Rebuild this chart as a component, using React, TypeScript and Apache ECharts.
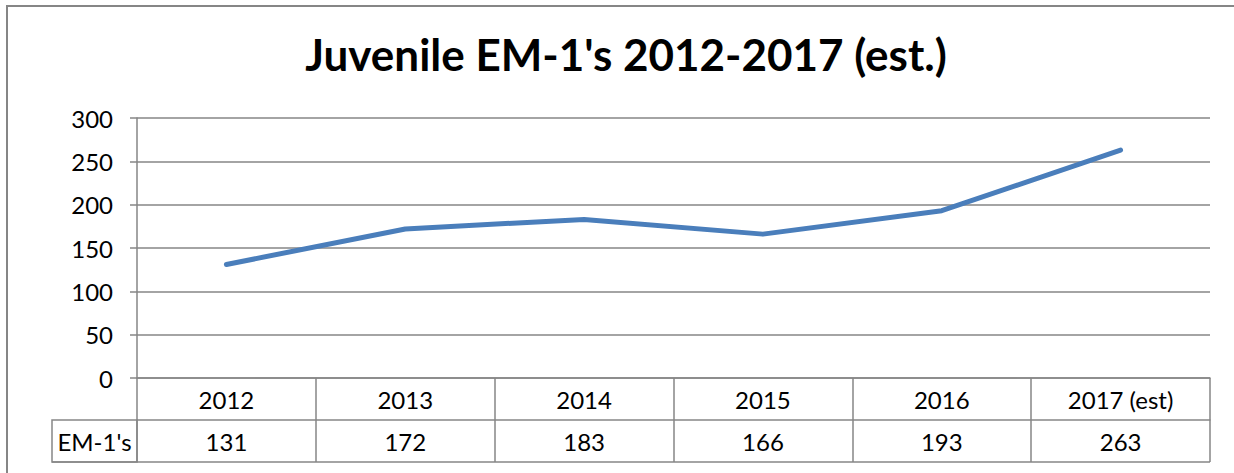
import React, { useEffect, useRef } from "react";
import * as echarts from "echarts";

const titleText = "Juvenile EM-1's 2012-2017 (est.)";
const categories = ["2012", "2013", "2014", "2015", "2016", "2017 (est)"];
const seriesName = "EM-1's";
const values = [131, 172, 183, 166, 193, 263];

const W = 1234;
const H = 473;
const GRID_LEFT = 137;
const GRID_RIGHT_X = 1210;
const GRID_TOP = 118;
const GRID_BOTTOM_Y = 378;
const ROW_H = 42;
const LABEL_CELL_LEFT = 52;
const GREY = "#868686";
const FONT = "Lato, 'Open Sans', sans-serif";
const FS = 24;

export default function App() {
  const ref = useRef<HTMLDivElement>(null);
  useEffect(() => {
    if (!ref.current) return;
    const chart = echarts.init(ref.current, null, { renderer: "svg" });
    chart.setOption({
      animation: false,
      backgroundColor: "#ffffff",
      title: {
        text: titleText,
        left: 621,
        textAlign: "center",
        top: 27,
        textStyle: { fontFamily: FONT, fontWeight: "bold", fontSize: 44, color: "#000" },
      },
      grid: {
        left: GRID_LEFT,
        right: W - GRID_RIGHT_X,
        top: GRID_TOP,
        bottom: H - GRID_BOTTOM_Y,
        containLabel: false,
      },
      xAxis: [
        {
          type: "category",
          data: categories,
          position: "bottom",
          boundaryGap: true,
          axisLine: { show: true, lineStyle: { color: GREY, width: 1.5 } },
          axisTick: { show: true, length: ROW_H, lineStyle: { color: GREY, width: 1.5 } },
          axisLabel: {
            margin: ROW_H / 2,
            verticalAlign: "middle",
            fontFamily: FONT,
            fontSize: FS,
            color: "#000",
            interval: 0,
          },
        },
        {
          type: "category",
          data: values.map((v) => String(v)),
          position: "bottom",
          offset: ROW_H,
          boundaryGap: true,
          axisLine: { show: true, lineStyle: { color: GREY, width: 1.5 } },
          axisTick: { show: true, length: ROW_H, lineStyle: { color: GREY, width: 1.5 } },
          axisLabel: {
            margin: ROW_H / 2,
            verticalAlign: "middle",
            fontFamily: FONT,
            fontSize: FS,
            color: "#000",
            interval: 0,
          },
        },
      ],
      yAxis: {
        type: "value",
        min: 0,
        max: 300,
        interval: 50,
        axisLine: { show: true, lineStyle: { color: GREY, width: 1.5 } },
        axisTick: { show: true, length: 7, lineStyle: { color: GREY, width: 1.5 } },
        splitLine: { show: true, lineStyle: { color: GREY, width: 1.5 } },
        axisLabel: { margin: 24, fontFamily: FONT, fontSize: FS, color: "#000" },
      },
      graphic: [
        {
          type: "rect",
          shape: { x: 7, y: 6, width: W + 20, height: H + 20 },
          style: { fill: "none", stroke: GREY, lineWidth: 2 },
          silent: true,
        },
        {
          type: "line",
          shape: { x1: LABEL_CELL_LEFT, y1: GRID_BOTTOM_Y + 2 * ROW_H, x2: GRID_RIGHT_X, y2: GRID_BOTTOM_Y + 2 * ROW_H },
          style: { stroke: GREY, lineWidth: 1.5 },
        },
        {
          type: "rect",
          shape: { x: LABEL_CELL_LEFT, y: GRID_BOTTOM_Y + ROW_H, width: GRID_LEFT - LABEL_CELL_LEFT, height: ROW_H },
          style: { fill: "none", stroke: GREY, lineWidth: 1.5 },
        },
        {
          type: "text",
          x: (LABEL_CELL_LEFT + GRID_LEFT) / 2,
          y: GRID_BOTTOM_Y + ROW_H * 1.5,
          style: {
            text: seriesName,
            fontFamily: FONT,
            fontSize: FS,
            fill: "#000",
            align: "center",
            verticalAlign: "middle",
          },
        },
      ],
      series: [
        {
          name: seriesName,
          type: "line",
          data: values,
          xAxisIndex: 0,
          symbol: "none",
          lineStyle: { color: "#4A7EBB", width: 5, cap: "round", join: "round" },
        },
      ],
    });
    return () => chart.dispose();
  }, []);
  return (
    <div
      ref={ref}
      style={{ position: "fixed", left: 0, top: 0, width: W, height: H }}
    />
  );
}
